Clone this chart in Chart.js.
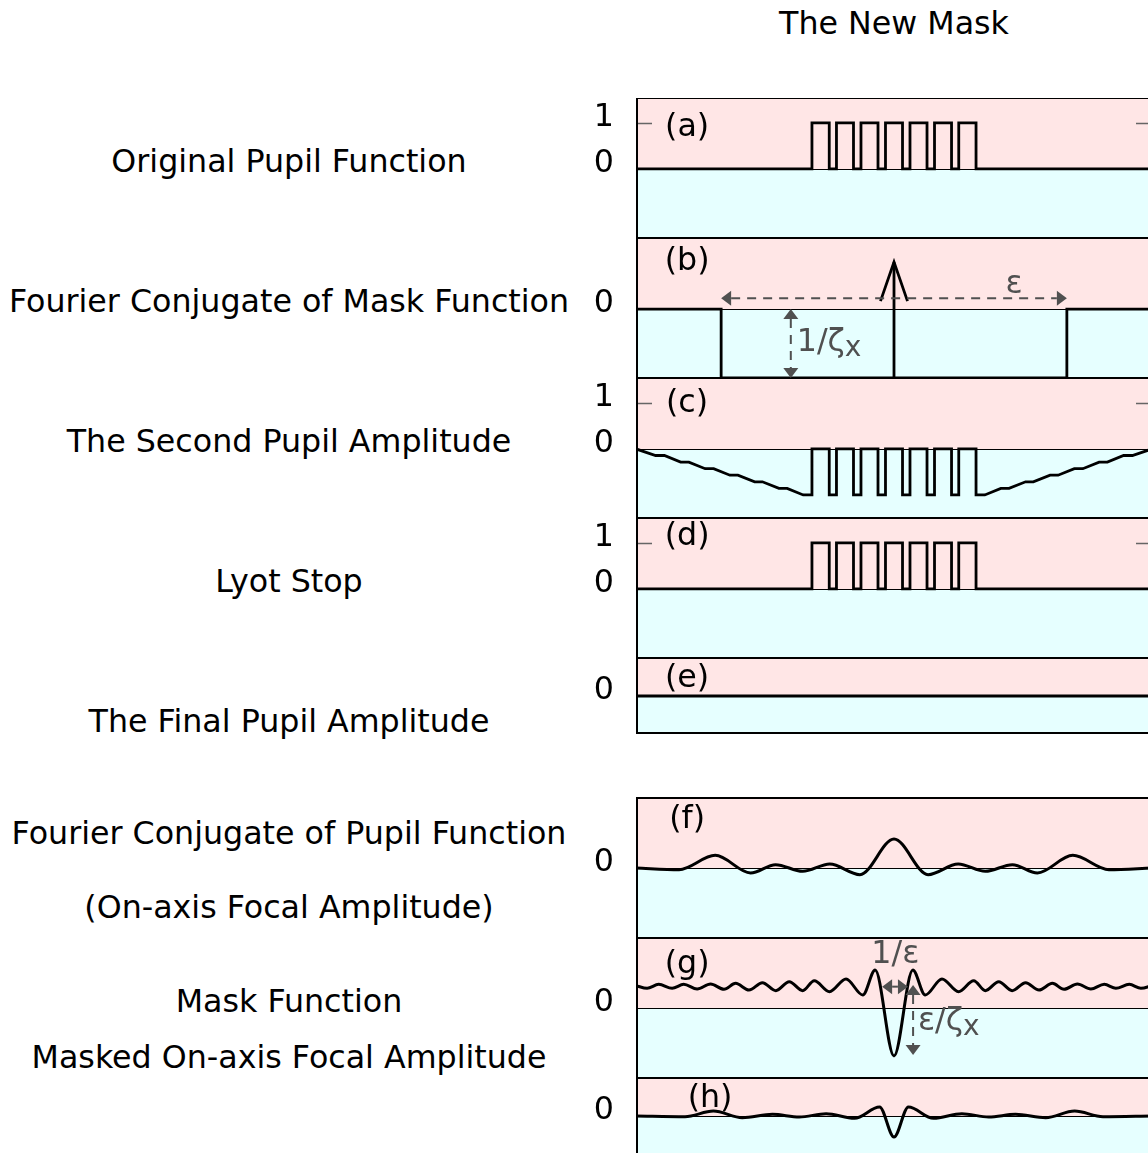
<!DOCTYPE html>
<html>
<head>
<meta charset="utf-8">
<script src="https://cdn.jsdelivr.net/npm/chart.js@4.4.1/dist/chart.umd.min.js"></script>
<style>
  html, body { margin: 0; padding: 0; background: #fff; overflow: hidden; }
  body { width: 1148px; height: 1153px; position: relative; font-family: "DejaVu Sans", sans-serif; }
  .label { position: absolute; left: 289px; transform: translate(-50%, -50%); font-size: 31.7px; line-height: 1; white-space: nowrap; color: #000; }
  #title { left: 894px; }
  #plot { position: absolute; left: 0; top: 98px; }
</style>
</head>
<body>
<div class="label" id="title" style="top:24px">The New Mask</div>
<div class="label" style="top:162px">Original Pupil Function</div>
<div class="label" style="top:302px">Fourier Conjugate of Mask Function</div>
<div class="label" style="top:442px">The Second Pupil Amplitude</div>
<div class="label" style="top:582px">Lyot Stop</div>
<div class="label" style="top:722px">The Final Pupil Amplitude</div>
<div class="label" style="top:834px">Fourier Conjugate of Pupil Function</div>
<div class="label" style="top:908px">(On-axis Focal Amplitude)</div>
<div class="label" style="top:1002px">Mask Function</div>
<div class="label" style="top:1058px">Masked On-axis Focal Amplitude</div>
<canvas id="plot" width="1152" height="1056"></canvas>
<script>
// (a) original pupil: edges of the seven open strips
const pupilRise = [-0.318, -0.223, -0.128, -0.033, 0.062, 0.157, 0.251];
const pupilFall = [-0.251, -0.157, -0.062, 0.033, 0.128, 0.223, 0.318];

// (b) mask function conjugate: box of depth -1 plus a delta at the centre
const maskBoxX = [-1, -0.67, -0.67, 0.67, 0.67, 1];
const maskBoxY = [0, 0, -1, -1, 0, 0];
const deltaX = [0, 0];
const deltaY = [-1, 0.68];

// (c) second pupil amplitude: stair ramps either side of the strips
const rampLeftX = [-1, -0.924, -0.89, -0.827, -0.795, -0.732, -0.699, -0.636, -0.605, -0.54, -0.51, -0.446, -0.414, -0.352];
const rampLeftY = [0, -0.143, -0.143, -0.286, -0.286, -0.429, -0.429, -0.571, -0.571, -0.714, -0.714, -0.857, -0.857, -1];
const rampRightX = [0.352, 0.414, 0.446, 0.51, 0.54, 0.605, 0.636, 0.699, 0.732, 0.795, 0.827, 0.89, 0.924, 1];
const rampRightY = [-1, -0.857, -0.857, -0.714, -0.714, -0.571, -0.571, -0.429, -0.429, -0.286, -0.286, -0.143, -0.143, 0];
const secondRise = [-0.318, -0.223, -0.128, -0.033, 0.062, 0.157, 0.251];
const secondFall = [-0.251, -0.157, -0.062, 0.033, 0.128, 0.223, 0.318];

// (d) Lyot stop
const lyotRise = [-0.318, -0.223, -0.128, -0.033, 0.062, 0.157, 0.251];
const lyotFall = [-0.251, -0.157, -0.062, 0.033, 0.128, 0.223, 0.318];

// (e) final pupil amplitude
const finalX = [-1, 1];
const finalY = [0, 0];

// (f) on-axis focal amplitude (extrema)
const focalX = [-1, -0.833, -0.693, -0.556, -0.459, -0.354, -0.249, -0.132, 0, 0.132, 0.249, 0.354, 0.459, 0.556, 0.693, 0.833, 1];
const focalY = [0, -0.024, 0.181, -0.071, 0.048, -0.048, 0.057, -0.095, 0.414, -0.095, 0.057, -0.048, 0.048, -0.071, 0.181, -0.024, 0];

// (g) mask function
const maskX = [-1, -0.957, -0.912, -0.86, -0.815, -0.763, -0.711, -0.659, -0.614, -0.562, -0.51, -0.458, -0.406, -0.354, -0.309, -0.25, -0.186, -0.121, -0.073,
  0, 0.073, 0.121, 0.186, 0.25, 0.309, 0.354, 0.406, 0.458, 0.51, 0.562, 0.614, 0.659, 0.711, 0.763, 0.815, 0.86, 0.912, 0.957, 1];
const maskY = [0.32, 0.281, 0.338, 0.281, 0.338, 0.271, 0.343, 0.267, 0.352, 0.257, 0.362, 0.248, 0.376, 0.248, 0.39, 0.233, 0.414, 0.186, 0.543,
  -0.686, 0.543, 0.186, 0.414, 0.233, 0.39, 0.248, 0.376, 0.248, 0.362, 0.257, 0.352, 0.267, 0.343, 0.271, 0.338, 0.281, 0.338, 0.281, 0.32];

// (h) masked on-axis focal amplitude
const maskedX = [-1, -0.81, -0.7, -0.588, -0.471, -0.367, -0.263, -0.153, -0.056, 0, 0.056, 0.153, 0.263, 0.367, 0.471, 0.588, 0.7, 0.81, 1];
const maskedY = [0, -0.01, 0.07, -0.024, 0.024, -0.015, 0.033, -0.033, 0.129, -0.3, 0.129, -0.033, 0.033, -0.015, 0.024, -0.024, 0.07, -0.01, 0];

// panels, top to bottom ("gap" is the blank band between (e) and (f))
const panelIds = ["a", "b", "c", "d", "e", "gap", "f", "g", "h"];
const panelTicks = [[0, 1], [0], [0, 1], [0, 1], [0], [], [0], [0], [0]];
const panelMin = [-1.5, -1, -1.5, -1.5, -1, 0, -1, -1, -0.543];
const panelMax = [1.54, 1.03, 1.54, 1.54, 1.03, 1, 1, 1, 0.543];
const panelHeights = [140, 140, 140, 140, 75, 65, 140, 140, 76];

// annotation placement, in each panel's data units
const letterSpots = [
  { panel: "a", x: -0.802, y: 0.89, text: "(a)" },
  { panel: "b", x: -0.802, y: 0.68, text: "(b)" },
  { panel: "c", x: -0.802, y: 0.98, text: "(c)" },
  { panel: "d", x: -0.802, y: 1.13, text: "(d)" },
  { panel: "e", x: -0.802, y: 0.46, text: "(e)" },
  { panel: "f", x: -0.802, y: 0.686, text: "(f)" },
  { panel: "g", x: -0.802, y: 0.614, text: "(g)" },
  { panel: "h", x: -0.713, y: 0.25, text: "(h)" },
];
const dimArrows = [
  { panel: "b", x1: -0.67, y1: 0.155, x2: 0.67, y2: 0.155, dashed: true },
  { panel: "b", x1: -0.4, y1: 0, x2: -0.4, y2: -1, dashed: true },
  { panel: "g", x1: -0.046, y1: 0.305, x2: 0.054, y2: 0.305, dashed: false },
  { panel: "g", x1: 0.074, y1: 0.33, x2: 0.074, y2: -0.67, dashed: true },
];
const dimTexts = [
  { panel: "b", x: 0.465, y: 0.35, text: "ε", sub: "", align: "center" },
  { panel: "b", x: -0.377, y: -0.49, text: "1/ζ", sub: "x", align: "left" },
  { panel: "g", x: 0.005, y: 0.757, text: "1/ε", sub: "", align: "center" },
  { panel: "g", x: 0.093, y: -0.2, text: "ε/ζ", sub: "x", align: "left" },
];

const FONT = "'DejaVu Sans', sans-serif";
const DIM_COLOR = "#505050";

function pairs(xs, ys) {
  return xs.map((x, i) => ({ x, y: ys[i] }));
}

function strips(rise, fall, low, high) {
  const pts = [];
  rise.forEach((r, i) => {
    pts.push({ x: r, y: low }, { x: r, y: high }, { x: fall[i], y: high }, { x: fall[i], y: low });
  });
  return pts;
}

function arrowHead(ctx, tipX, tipY, dx, dy, len, half) {
  const bx = tipX - dx * len;
  const by = tipY - dy * len;
  ctx.beginPath();
  ctx.moveTo(tipX, tipY);
  ctx.lineTo(bx - dy * half, by + dx * half);
  ctx.lineTo(bx + dy * half, by - dx * half);
  ctx.closePath();
  ctx.fill();
}

const panelPlugin = {
  id: "panels",
  beforeDatasetsDraw(chart) {
    const { ctx, chartArea } = chart;
    ctx.save();
    panelIds.forEach((id, i) => {
      if (id === "gap") return;
      const s = chart.scales[id];
      const y0 = Math.round(s.getPixelForValue(0));
      ctx.fillStyle = "#ffe6e6";
      ctx.fillRect(chartArea.left, s.top, chartArea.width, y0 - s.top);
      ctx.fillStyle = "#e6ffff";
      ctx.fillRect(chartArea.left, y0, chartArea.width, s.bottom - y0);
      ctx.strokeStyle = "#000";
      ctx.lineWidth = 1;
      ctx.beginPath();
      ctx.moveTo(chartArea.left, y0 + 0.5);
      ctx.lineTo(chartArea.right, y0 + 0.5);
      ctx.stroke();
      // short inward tick marks at 1
      if (panelTicks[i].includes(1)) {
        const y1 = Math.round(s.getPixelForValue(1)) + 0.5;
        ctx.strokeStyle = "#666";
        ctx.lineWidth = 1.5;
        ctx.beginPath();
        ctx.moveTo(chartArea.left, y1);
        ctx.lineTo(chartArea.left + 16, y1);
        ctx.moveTo(chartArea.right - 16, y1);
        ctx.lineTo(chartArea.right, y1);
        ctx.stroke();
      }
    });
    ctx.restore();
  },
  afterDatasetsDraw(chart) {
    const { ctx, chartArea } = chart;
    const xs = chart.scales.x;
    ctx.save();

    // delta head in (b): open chevron
    const yb = chart.scales.b;
    const tipX = xs.getPixelForValue(deltaX[1]);
    const tipY = yb.getPixelForValue(deltaY[1]);
    ctx.strokeStyle = "#000";
    ctx.lineWidth = 2.8;
    ctx.lineJoin = "miter";
    ctx.beginPath();
    ctx.moveTo(tipX - 13.5, tipY + 39);
    ctx.lineTo(tipX, tipY);
    ctx.lineTo(tipX + 13.5, tipY + 39);
    ctx.stroke();

    // panel borders
    ctx.strokeStyle = "#000";
    ctx.lineWidth = 2;
    panelIds.forEach((id) => {
      if (id === "gap") return;
      const s = chart.scales[id];
      ctx.strokeRect(chartArea.left + 1, s.top, chartArea.width, s.bottom - s.top);
    });

    // panel letters
    ctx.fillStyle = "#000";
    ctx.font = `31.7px ${FONT}`;
    ctx.textAlign = "center";
    ctx.textBaseline = "middle";
    letterSpots.forEach((l) => {
      ctx.fillText(l.text, xs.getPixelForValue(l.x), chart.scales[l.panel].getPixelForValue(l.y));
    });

    // dimension arrows
    ctx.strokeStyle = DIM_COLOR;
    ctx.fillStyle = DIM_COLOR;
    ctx.lineWidth = 2;
    dimArrows.forEach((a) => {
      const s = chart.scales[a.panel];
      const x1 = xs.getPixelForValue(a.x1);
      const y1 = s.getPixelForValue(a.y1);
      const x2 = xs.getPixelForValue(a.x2);
      const y2 = s.getPixelForValue(a.y2);
      const len = Math.hypot(x2 - x1, y2 - y1);
      const dx = (x2 - x1) / len;
      const dy = (y2 - y1) / len;
      const head = 10;
      ctx.setLineDash(a.dashed ? [9, 7] : []);
      ctx.beginPath();
      ctx.moveTo(x1 + dx * head, y1 + dy * head);
      ctx.lineTo(x2 - dx * head, y2 - dy * head);
      ctx.stroke();
      ctx.setLineDash([]);
      arrowHead(ctx, x1, y1, -dx, -dy, head, 7.5);
      arrowHead(ctx, x2, y2, dx, dy, head, 7.5);
    });

    // dimension labels
    dimTexts.forEach((t) => {
      const s = chart.scales[t.panel];
      const x = xs.getPixelForValue(t.x);
      const y = s.getPixelForValue(t.y);
      ctx.font = `31.7px ${FONT}`;
      ctx.textAlign = t.align;
      ctx.textBaseline = "middle";
      ctx.fillText(t.text, x, y);
      if (t.sub) {
        const w = ctx.measureText(t.text).width;
        ctx.textAlign = "left";
        ctx.font = `28px ${FONT}`;
        ctx.fillText(t.sub, x + w, y + 6);
      }
    });
    ctx.restore();
  },
};

const scales = {
  x: { type: "linear", min: -1, max: 1, display: false },
};
panelIds.forEach((id, i) => {
  scales[id] = {
    type: "linear",
    position: "left",
    stack: "panels",
    stackWeight: panelHeights[i],
    weight: panelIds.length - i,
    min: panelMin[i],
    max: panelMax[i],
    grid: { display: false, drawTicks: false },
    border: { display: false },
    ticks: {
      autoSkip: false,
      padding: 22,
      labelOffset: -5,
      color: "#000",
      font: { family: FONT, size: 31.7 },
      callback: (v) => String(v),
    },
    afterBuildTicks: (axis) => {
      axis.ticks = panelTicks[i].map((v) => ({ value: v }));
    },
    afterFit: (axis) => {
      axis.width = 636;
      axis.paddingTop = 0;
      axis.paddingBottom = 0;
    },
  };
});

const stepLine = { borderColor: "#000", borderWidth: 2.8, pointRadius: 0, tension: 0, borderJoinStyle: "miter" };
const curveLine = { borderColor: "#000", borderWidth: 3, pointRadius: 0, cubicInterpolationMode: "monotone" };

new Chart(document.getElementById("plot"), {
  type: "line",
  data: {
    datasets: [
      { ...stepLine, yAxisID: "a", data: [{ x: -1, y: 0 }, ...strips(pupilRise, pupilFall, 0, 1), { x: 1, y: 0 }] },
      { ...stepLine, yAxisID: "b", data: pairs(maskBoxX, maskBoxY) },
      { ...stepLine, yAxisID: "b", data: pairs(deltaX, deltaY) },
      {
        ...stepLine,
        yAxisID: "c",
        data: [...pairs(rampLeftX, rampLeftY), ...strips(secondRise, secondFall, -1, 0), ...pairs(rampRightX, rampRightY)],
      },
      { ...stepLine, yAxisID: "d", data: [{ x: -1, y: 0 }, ...strips(lyotRise, lyotFall, 0, 1), { x: 1, y: 0 }] },
      { ...stepLine, borderWidth: 3, yAxisID: "e", data: pairs(finalX, finalY) },
      { ...curveLine, yAxisID: "f", data: pairs(focalX, focalY) },
      { ...curveLine, yAxisID: "g", data: pairs(maskX, maskY) },
      { ...curveLine, yAxisID: "h", data: pairs(maskedX, maskedY) },
    ],
  },
  options: {
    responsive: false,
    animation: false,
    events: [],
    layout: { padding: 0 },
    plugins: { legend: { display: false }, tooltip: { enabled: false } },
    scales,
  },
  plugins: [panelPlugin],
});
</script>
</body>
</html>
